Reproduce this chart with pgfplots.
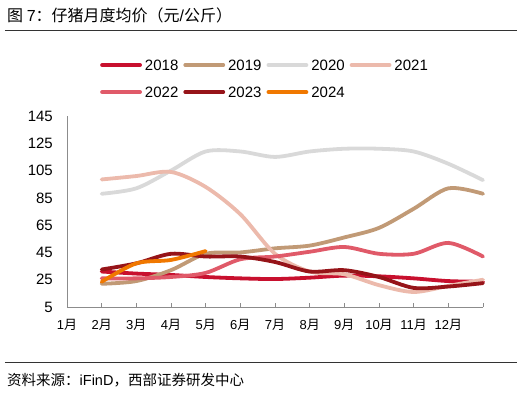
\documentclass[border=0pt]{standalone}
\usepackage{pgfplots}
\pgfplotsset{compat=1.18}
\usepackage{fontspec}
\setmainfont{Liberation Sans}
\newfontfamily\cjk{Noto Sans CJK SC}
\definecolor{c18}{HTML}{C8102E}
\definecolor{c19}{HTML}{C19A76}
\definecolor{c20}{HTML}{D9D9D9}
\definecolor{c21}{HTML}{ECBAAC}
\definecolor{c22}{HTML}{E05A69}
\definecolor{c23}{HTML}{961419}
\definecolor{c24}{HTML}{F07800}
\begin{document}
\begin{tikzpicture}
\path[use as bounding box] (-67pt,-85pt) rectangle (459pt,307pt);
\node[anchor=west, inner sep=0pt, font=\fontsize{16}{16}\selectfont] at (-60pt,292pt) {{\cjk 图 }7{\cjk ：仔猪月度均价（元}/{\cjk 公斤）}};
\draw[line width=0.8pt, black!80] (-62pt,277pt) -- (450pt,277pt);
\draw[line width=0.8pt, black!80] (-62pt,-55pt) -- (450pt,-55pt);
\node[anchor=west, inner sep=0pt, font=\fontsize{14.5}{14.5}\selectfont] at (-60pt,-73pt) {{\cjk 资料来源：}iFinD{\cjk ，西部证券研发中心}};
\begin{axis}[
  at={(0pt,0pt)}, anchor=south west,
  scale only axis, width=416pt, height=191pt,
  xmin=0, xmax=12, ymin=5, ymax=145,
  clip=false,
  axis x line*=bottom, axis y line*=left,
  axis line style={draw=gray!90, line width=0.8pt},
  xtick={0,...,12},
  xticklabels={1{\cjk 月},2{\cjk 月},3{\cjk 月},4{\cjk 月},5{\cjk 月},6{\cjk 月},7{\cjk 月},8{\cjk 月},9{\cjk 月},10{\cjk 月},11{\cjk 月},12{\cjk 月},{}},
  x tick style={draw=gray!90, line width=0.8pt},
  major tick length=4pt,
  xticklabel style={anchor=center, inner sep=0pt, yshift=-18pt, font=\fontsize{13}{13}\selectfont},
  ytick={5,25,...,145},
  y tick style={draw=none},
  yticklabel style={anchor=east, inner sep=0pt, xshift=-14pt, font=\fontsize{15}{15}\selectfont},
  /pgf/number format/assume math mode=true,
  every axis plot/.append style={line width=3.8pt, smooth, tension=0.5, no markers, line cap=round},
  legend columns=4,
  legend style={at={(0.0793,1.196)}, anchor=west, draw=none, fill=none, inner sep=0pt,
    font=\fontsize{15}{15}\selectfont, row sep=16pt,
    nodes={inner xsep=3pt, inner ysep=0pt, text height=11pt, text depth=0pt},
    /tikz/every even column/.append style={column sep=2pt}},
  legend cell align=left,
  legend image code/.code={\draw[#1, line width=3.8pt, line cap=round] (0pt,0pt) -- (38pt,0pt);},
]
\addplot[c18] coordinates {(1,31)(2,29.5)(3,28.5)(4,27)(5,26)(6,25.5)(7,26.5)(8,28)(9,27.5)(10,26)(11,24)(12,23.5)};
\addlegendentry{2018}
\addplot[c19] coordinates {(1,22)(2,24)(3,32)(4,44)(5,45)(6,48)(7,50)(8,56)(9,63)(10,77)(11,92)(12,88)};
\addlegendentry{2019}
\addplot[c20] coordinates {(1,88)(2,92)(3,105)(4,119)(5,119)(6,115)(7,119)(8,121)(9,121)(10,119)(11,110)(12,98)};
\addlegendentry{2020}
\addplot[c21] coordinates {(1,98.5)(2,101)(3,104)(4,93)(5,73)(6,44)(7,31)(8,29)(9,21)(10,16)(11,20.5)(12,25)};
\addlegendentry{2021}
\addplot[c22] coordinates {(1,26)(2,26)(3,27)(4,30)(5,40)(6,42)(7,45.5)(8,49)(9,44)(10,44)(11,52)(12,42)};
\addlegendentry{2022}
\addplot[c23] coordinates {(1,32.5)(2,37)(3,44)(4,42)(5,42)(6,38)(7,31)(8,32)(9,27)(10,19)(11,20)(12,22.5)};
\addlegendentry{2023}
\addplot[c24] coordinates {(1,23.5)(2,37)(3,39.5)(4,46)};
\addlegendentry{2024}
\end{axis}
\end{tikzpicture}
\end{document}
